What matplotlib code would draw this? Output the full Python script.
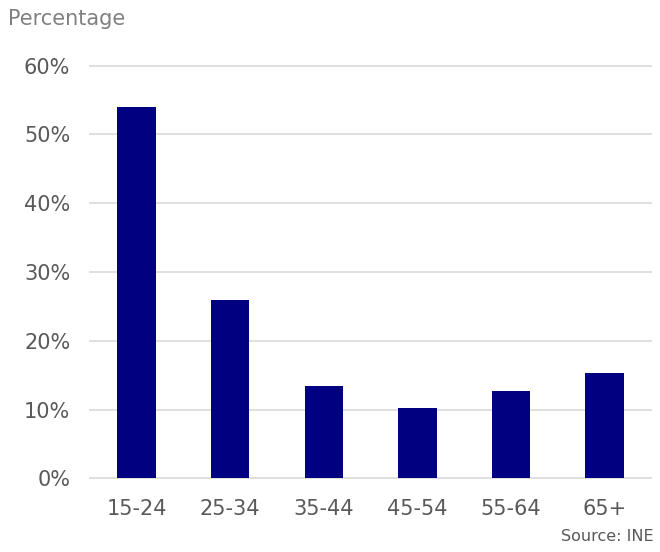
import matplotlib
matplotlib.use("Agg")
from matplotlib import pyplot as plt

age_groups = ["15-24", "25-34", "35-44", "45-54", "55-64", "65+"]
share_pct = [54.0, 25.9, 13.5, 10.3, 12.7, 15.3]
y_ticks = [0, 10, 20, 30, 40, 50, 60]

plt.rcParams['font.family'] = ['DejaVu Sans']

fig = plt.figure(figsize=(6.6, 5.52), dpi=100)
ax = fig.add_axes([0.136, 0.1332, 0.851, 0.7478])

ax.bar(range(len(age_groups)), share_pct, width=0.41, color='#000080', zorder=3)

ax.set_ylim(0, 60)
ax.set_xlim(-0.5, len(age_groups) - 0.5)
ax.set_yticks(y_ticks)
ax.set_yticklabels([f"{v}%" for v in y_ticks])
ax.set_xticks(range(len(age_groups)))
ax.set_xticklabels(age_groups)

ax.grid(axis='y', color='#d9d9d9', linewidth=1.2, zorder=0, clip_on=False)
for s in ax.spines.values():
    s.set_visible(False)
ax.tick_params(axis='both', length=0, labelsize=15, colors='#595959')
ax.tick_params(axis='y', pad=14)
ax.tick_params(axis='x', pad=15)

fig.text(0.012, 0.965, "Percentage", fontsize=15, color='#808080', va='center', ha='left')
fig.text(0.99, 0.015, "Source: INE", fontsize=11.5, color='#595959', ha='right', va='bottom')

fig.savefig("out.png", dpi=100)
